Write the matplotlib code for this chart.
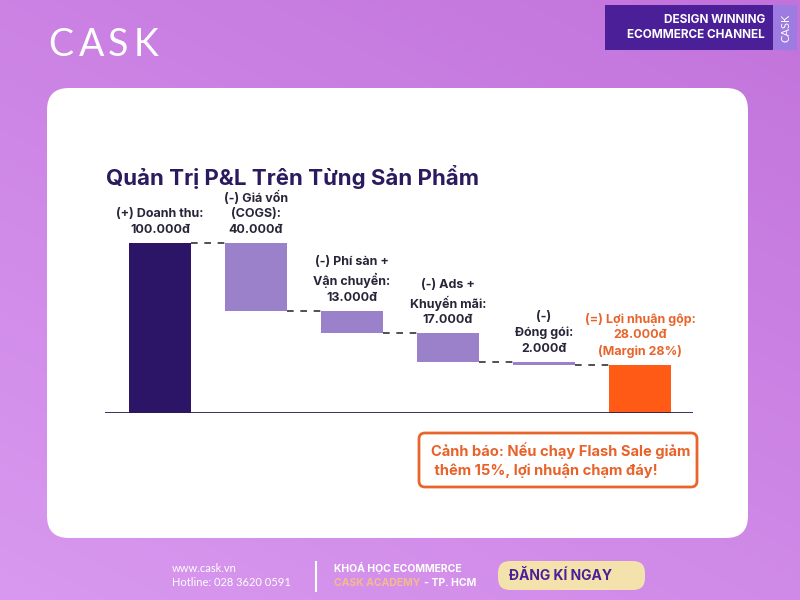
import numpy as np
import matplotlib.pyplot as plt
from matplotlib.patches import FancyBboxPatch, Rectangle

plt.rcParams['font.family'] = ['Inter', 'DejaVu Sans']

# waterfall data (nghìn đồng)
steps = ['(+) Doanh thu:', '(-) Giá vốn\n(COGS):', '(-) Phí sàn +\nVận chuyển:',
         '(-) Ads +\nKhuyến mãi:', '(-)\nĐóng gói:', '(=) Lợi nhuận gộp:']
amounts = [100, -40, -13, -17, -2, 28]
kinds = ['total', 'delta', 'delta', 'delta', 'delta', 'total']
extra = ['', '', '', '', '', '\n(Margin 28%)']

c_dark = '#2c1566'
c_mid = '#9b80ca'
c_orange = '#ff5a16'
c_text = '#2a2438'

fig = plt.figure(figsize=(8, 6), dpi=100)

# background layer in pixel coords
bg = fig.add_axes([0, 0, 1, 1])
bg.set_xlim(0, 800)
bg.set_ylim(600, 0)
bg.axis('off')
yy, xx = np.mgrid[0:1:300j, 0:1:400j]
top = np.array([0.76, 0.45, 0.86])
bot = np.array([0.85, 0.60, 0.94])
t = (0.6 * yy + 0.4 * (1 - xx))[..., None]
grad = top * (1 - t) + bot * t
bg.imshow(grad, extent=(0, 800, 600, 0), aspect='auto', zorder=0)

# white card
bg.add_patch(FancyBboxPatch((47, 88), 701, 450, boxstyle='round,pad=0,rounding_size=22',
                            fc='white', ec='none', zorder=1))

# header logo
for ch, x in zip('CASK', [48, 79, 108, 134]):
    bg.text(x, 45, ch, color='white', fontsize=27, family='Lato', fontweight='normal',
            va='center', ha='left', zorder=2)
bg.add_patch(Rectangle((605, 5), 168, 45, fc='#4a1f98', ec='none', zorder=2))
bg.add_patch(Rectangle((773, 5), 24, 45, fc='#9d7be0', ec='none', zorder=2))
bg.text(765, 20, 'DESIGN WINNING', color='white', fontsize=8.5, fontweight='bold',
        ha='right', va='center', zorder=3)
bg.text(765, 35, 'ECOMMERCE CHANNEL', color='white', fontsize=8.5, fontweight='bold',
        ha='right', va='center', zorder=3)
bg.text(786, 28, 'CASK', color='white', fontsize=8, rotation=90, ha='center',
        va='center', family='Lato', zorder=3)

# footer
bg.text(172, 568, 'www.cask.vn', color='white', fontsize=8, family='Lato', va='center', zorder=2)
bg.text(172, 582, 'Hotline: 028 3620 0591', color='white', fontsize=8, family='Lato',
        va='center', zorder=2)
bg.plot([316, 316], [562, 591], color='white', lw=1.5, zorder=2)
bg.text(334, 568, 'KHOÁ HỌC ECOMMERCE', color='white', fontsize=7.5, fontweight='bold',
        va='center', zorder=2)
academy = bg.text(334, 583, 'CASK ACADEMY', color='#f7b98c', fontsize=7.5, fontweight='bold',
                  va='center', zorder=2)
bg.annotate('- TP. HCM', xy=(1, 0.5), xycoords=academy, xytext=(3, 0),
            textcoords='offset points', color='white', fontsize=7.5, fontweight='bold',
            va='center', zorder=2)
bg.add_patch(FancyBboxPatch((498, 561), 147, 29, boxstyle='round,pad=0,rounding_size=12',
                            fc='#f3e2ac', ec='none', zorder=2))
bg.text(509, 576, 'ĐĂNG KÍ NGAY', color='#4a1f98', fontsize=10, fontweight='bold',
        va='center', zorder=3)

# title
bg.text(106, 177, 'Quản Trị P&L Trên Từng Sản Phẩm', color='#2b1b5e', fontsize=16,
        fontweight='bold', va='center', zorder=2)

# warning box
bg.add_patch(FancyBboxPatch((419, 433), 278, 54, boxstyle='round,pad=0,rounding_size=6',
                            fc='white', ec='#e8652c', lw=2, zorder=2))
bg.text(431, 460, 'Cảnh báo: Nếu chạy Flash Sale giảm\n thêm 15%, lợi nhuận chạm đáy!',
        color='#e8622a', fontsize=10.6, fontweight='bold', va='center', linespacing=1.4,
        zorder=3)

# chart axes
ax = fig.add_axes([105 / 800, (600 - 413) / 600, 588 / 800, 223 / 600])
ax.patch.set_alpha(0)
ax.set_xlim(-55 / 96, 533 / 96)
ax.set_ylim(0, 223 / 1.7)
ax.axis('off')

x = np.arange(len(amounts))
bottoms, heights = [], []
running = 0
for amt, kind in zip(amounts, kinds):
    if kind == 'total':
        bottoms.append(0)
        heights.append(amt)
        running = amt
    else:
        running += amt
        bottoms.append(running)
        heights.append(-amt)
colors = [c_dark] + [c_mid] * 4 + [c_orange]

w = 0.65
ax.bar(x, heights, bottom=bottoms, width=w, color=colors, zorder=3)

# dashed connectors
levels = [b + h if k == 'total' else b for b, h, k in zip(bottoms, heights, kinds)]
for i in range(len(x) - 1):
    ax.plot([x[i] + w / 2, x[i + 1] - w / 2], [levels[i], levels[i]], ls=(0, (4, 4)),
            color='#333333', lw=1.2, zorder=2)

ax.axhline(0, xmin=0, xmax=1, color='#2a1b4f', lw=2, zorder=4)

for i, (lab, amt, ex) in enumerate(zip(steps, amounts, extra)):
    topv = bottoms[i] + heights[i]
    txt = f'{lab}\n{abs(amt)}.000đ{ex}'
    col = '#e8642c' if i == len(x) - 1 else c_text
    ax.annotate(txt, xy=(x[i], topv), xytext=(0, 5), textcoords='offset points',
                ha='center', va='bottom', fontsize=9, fontweight='bold', color=col,
                linespacing=1.4, annotation_clip=False)

fig.savefig('out.png', dpi=100)
